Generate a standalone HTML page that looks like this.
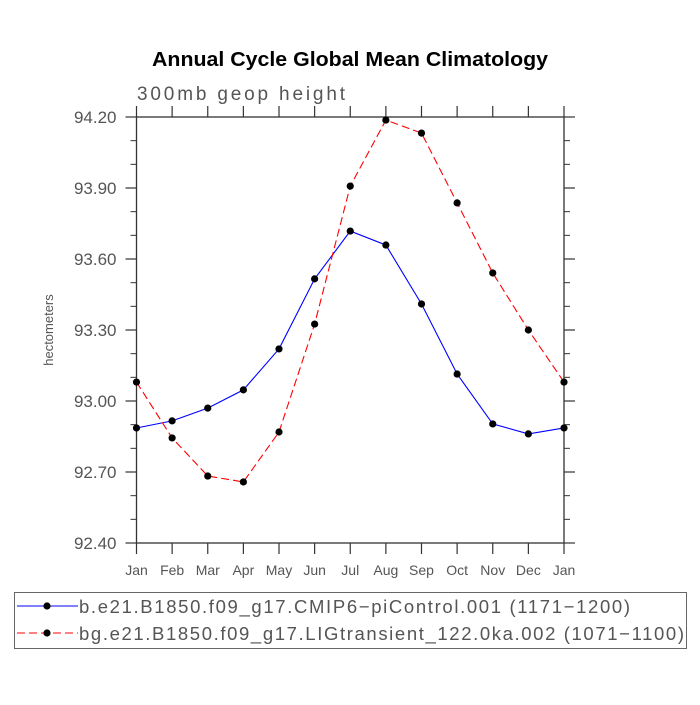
<!DOCTYPE html>
<html><head><meta charset="utf-8"><style>
body{margin:0;background:#fff}
svg text{font-family:"Liberation Sans",sans-serif}
</style></head><body>
<svg width="700" height="700" viewBox="0 0 700 700">
<text x="152" y="66" font-size="20.5" font-weight="bold" fill="#000" textLength="396" lengthAdjust="spacingAndGlyphs">Annual Cycle Global Mean Climatology</text>
<text x="137" y="100" font-size="19" fill="#555" textLength="208">300mb geop height</text>
<text transform="translate(53,330) rotate(-90)" text-anchor="middle" font-size="13" fill="#555">hectometers</text>
<g id="axes"></g>
<g id="series"></g>
<g>
<rect x="14.5" y="592.5" width="672" height="56" fill="none" stroke="#666" stroke-width="1"/>
<g id="legend"></g>
</g>
</svg>
<script>
const months=["Jan","Feb","Mar","Apr","May","Jun","Jul","Aug","Sep","Oct","Nov","Dec","Jan"];
const yTicks=[92.40,92.70,93.00,93.30,93.60,93.90,94.20];
const seriesNames=["b.e21.B1850.f09_g17.CMIP6\u2212piControl.001 (1171\u22121200)","bg.e21.B1850.f09_g17.LIGtransient_122.0ka.002 (1071\u22121100)"];
const blueVals=[92.886,92.916,92.970,93.047,93.220,93.516,93.718,93.659,93.410,93.114,92.903,92.861,92.886];
const redVals=[93.080,92.844,92.683,92.658,92.869,93.325,93.908,94.187,94.132,93.837,93.541,93.300,93.080];
const X0=136.5,X1=564,Y0=543,Y1=117,YMIN=92.4,YMAX=94.2;
const xs=i=>X0+(X1-X0)*i/(months.length-1);
const ys=v=>Y0-(v-YMIN)/(YMAX-YMIN)*(Y0-Y1);
const NS="http://www.w3.org/2000/svg";
function mk(tag,attrs,parent){const e=document.createElementNS(NS,tag);for(const k in attrs)e.setAttribute(k,attrs[k]);parent.appendChild(e);return e;}
const ax=document.getElementById('axes');
const frame=mk('rect',{x:X0,y:Y1,width:X1-X0,height:Y0-Y1,fill:'none',stroke:'#333','stroke-width':1.3},ax);


months.forEach((m,i)=>{
  const x=xs(i);
  mk('line',{x1:x,y1:Y0,x2:x,y2:Y0+11,stroke:'#333','stroke-width':1.2},ax);
  mk('line',{x1:x,y1:Y1,x2:x,y2:Y1-11,stroke:'#333','stroke-width':1.2},ax);
  const t=mk('text',{x:x,y:Y0+32,'text-anchor':'middle','font-size':14,fill:'#555'},ax);
  t.textContent=m;
  
  
});
yTicks.forEach((v,i)=>{
  const y=ys(v);
  mk('line',{x1:X0-11,y1:y,x2:X0,y2:y,stroke:'#333','stroke-width':1.2},ax);
  mk('line',{x1:X1,y1:y,x2:X1+11,y2:y,stroke:'#333','stroke-width':1.2},ax);
  const t=mk('text',{x:X0-20,y:y+6,'text-anchor':'end','font-size':17,fill:'#555'},ax);
  t.textContent=v.toFixed(2);
  
  
  if(i<yTicks.length-1){for(let k=1;k<3;k++){const ym=ys(v+0.1*k);
    mk('line',{x1:X0-6,y1:ym,x2:X0,y2:ym,stroke:'#333','stroke-width':1},ax);
    mk('line',{x1:X1,y1:ym,x2:X1+6,y2:ym,stroke:'#333','stroke-width':1},ax);}}
});
const sg=document.getElementById('series');
function drawSeries(vals,color,dash,name){
  const g=mk('g',{},sg);
  
  
  mk('polyline',{points:vals.map((v,i)=>xs(i)+','+ys(v)).join(' '),fill:'none',stroke:color,'stroke-width':1.1,'stroke-dasharray':dash},g);
  vals.forEach((v,i)=>{const c=mk('circle',{cx:xs(i),cy:ys(v),r:3.6,fill:'#000'},g);
    
    });
}
drawSeries(blueVals,'#00f','none','series-picontrol');
drawSeries(redVals,'#f00','8,4','series-ligtransient');
const lg=document.getElementById('legend');
[['#00f','none',606],['#f00','8,4',633]].forEach((s,i)=>{
  mk('line',{x1:17,y1:s[2],x2:78,y2:s[2],stroke:s[0],'stroke-width':1.1,'stroke-dasharray':s[1]},lg);
  mk('circle',{cx:47,cy:s[2],r:3.6,fill:'#000'},lg);
  const t=mk('text',{x:79,y:s[2]+7,'font-size':18.5,fill:'#555',textLength:i==0?551:605},lg);
  t.textContent=seriesNames[i];
  
  
});
</script>
</body></html>
